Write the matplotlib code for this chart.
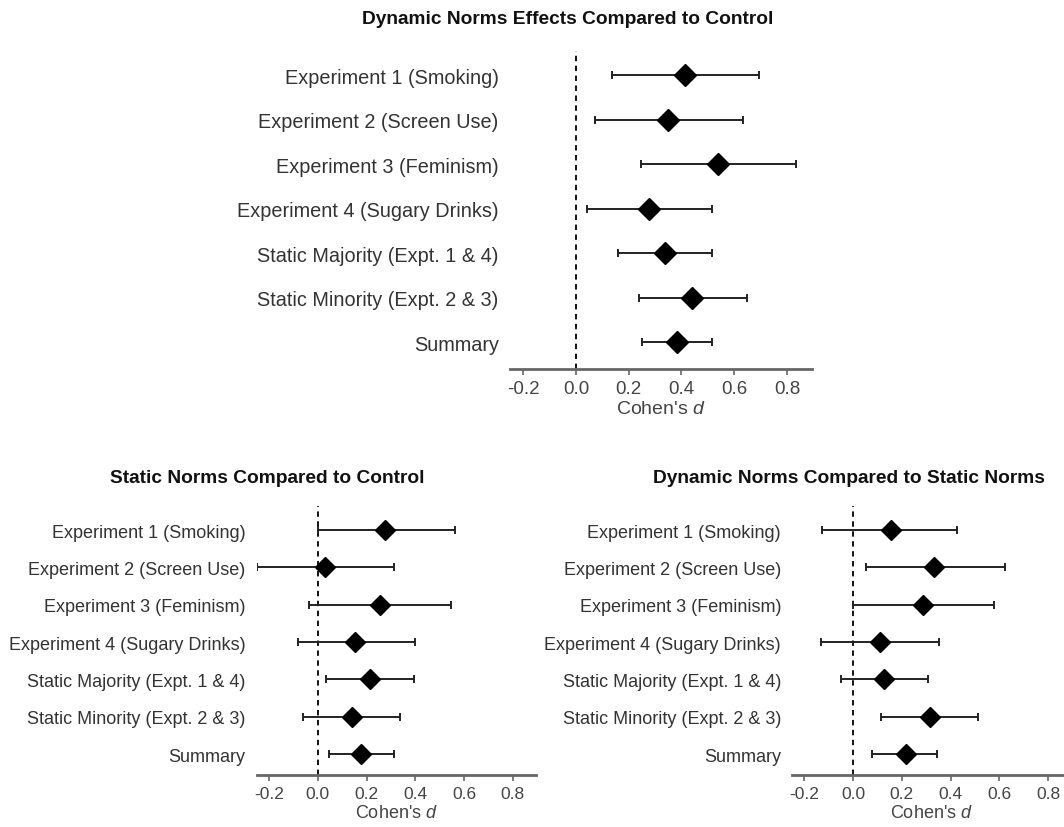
import numpy as np
import matplotlib.pyplot as plt

plt.rcParams['font.family'] = ['Liberation Sans', 'DejaVu Sans']
plt.rcParams['axes.unicode_minus'] = False
plt.rcParams['mathtext.fontset'] = 'custom'
plt.rcParams['mathtext.it'] = 'Liberation Sans:italic'
plt.rcParams['mathtext.rm'] = 'Liberation Sans'

labels = ["Experiment 1 (Smoking)", "Experiment 2 (Screen Use)",
          "Experiment 3 (Feminism)", "Experiment 4 (Sugary Drinks)",
          "Static Majority (Expt. 1 & 4)", "Static Minority (Expt. 2 & 3)",
          "Summary"]

# dynamic norms vs control
dyn_ctrl_d = [0.414, 0.350, 0.540, 0.278, 0.338, 0.441, 0.382]
dyn_ctrl_lo = [0.135, 0.072, 0.248, 0.043, 0.161, 0.238, 0.249]
dyn_ctrl_hi = [0.693, 0.634, 0.836, 0.517, 0.516, 0.648, 0.516]

# static norms vs control
stat_ctrl_d = [0.275, 0.029, 0.254, 0.153, 0.213, 0.140, 0.176]
stat_ctrl_lo = [0.0, -0.25, -0.037, -0.080, 0.032, -0.062, 0.045]
stat_ctrl_hi = [0.561, 0.313, 0.545, 0.397, 0.393, 0.338, 0.313]

# dynamic norms vs static norms
dyn_stat_d = [0.154, 0.333, 0.288, 0.110, 0.127, 0.315, 0.215]
dyn_stat_lo = [-0.128, 0.051, 0.0, -0.132, -0.050, 0.113, 0.078]
dyn_stat_hi = [0.426, 0.622, 0.576, 0.354, 0.306, 0.512, 0.343]

xticks = [-0.2, 0.0, 0.2, 0.4, 0.6, 0.8]


def forest(ax, d, lo, hi, lab_size, tick_size, ylim, msize):
    d = np.array(d)
    lo = np.array(lo)
    hi = np.array(hi)
    y = np.arange(len(d))
    ax.axvline(0, color='black', ls=(0, (3, 2.5)), lw=1.3, zorder=1)
    ax.errorbar(d, y, xerr=[d - lo, hi - d], fmt='none', ecolor='#222222',
                elinewidth=1.4, capsize=3, capthick=1.4, zorder=2)
    ax.plot(d, y, 'D', color='black', markersize=msize, zorder=3)
    ax.set_xlim(-0.25, 0.895)
    ax.set_ylim(*ylim)
    ax.set_yticks(y)
    ax.set_yticklabels(labels, fontsize=lab_size, color='#333333')
    ax.tick_params(axis='y', length=0, pad=8)
    ax.set_xticks(xticks)
    ax.set_xticklabels(["%.1f" % t for t in xticks], fontsize=tick_size, color='#444444')
    ax.tick_params(axis='x', length=4, width=1.2, color='#666666', pad=4)
    for s in ['left', 'top', 'right']:
        ax.spines[s].set_visible(False)
    ax.spines['bottom'].set_color('#666666')
    ax.spines['bottom'].set_linewidth(2)
    ax.set_xlabel("Cohen's $\\mathit{d}$", fontsize=tick_size + 0.5, color='#444444', labelpad=2)
    ax.set_facecolor('none')


fig = plt.figure(figsize=(10.64, 8.28), dpi=100)

ax1 = fig.add_axes([0.4793, 0.5531, 0.2838, 0.3841])
forest(ax1, dyn_ctrl_d, dyn_ctrl_lo, dyn_ctrl_hi, 14.3, 13.5, (6.6, -0.54), 11)

ax2 = fig.add_axes([0.2413, 0.0628, 0.2625, 0.3252])
forest(ax2, stat_ctrl_d, stat_ctrl_lo, stat_ctrl_hi, 13, 12.5, (6.56, -0.65), 10.5)

ax3 = fig.add_axes([0.7445, 0.0628, 0.2625, 0.3252])
forest(ax3, dyn_stat_d, dyn_stat_lo, dyn_stat_hi, 13, 12.5, (6.56, -0.65), 10.5)

fig.text(0.534, 0.977, "Dynamic Norms Effects Compared to Control", fontsize=13.8,
         fontweight='bold', ha='center', va='center', color='#111111')
fig.text(0.251, 0.4215, "Static Norms Compared to Control", fontsize=13.8,
         fontweight='bold', ha='center', va='center', color='#111111')
fig.text(0.798, 0.4215, "Dynamic Norms Compared to Static Norms", fontsize=13.8,
         fontweight='bold', ha='center', va='center', color='#111111')

fig.savefig("out.png", dpi=100)
